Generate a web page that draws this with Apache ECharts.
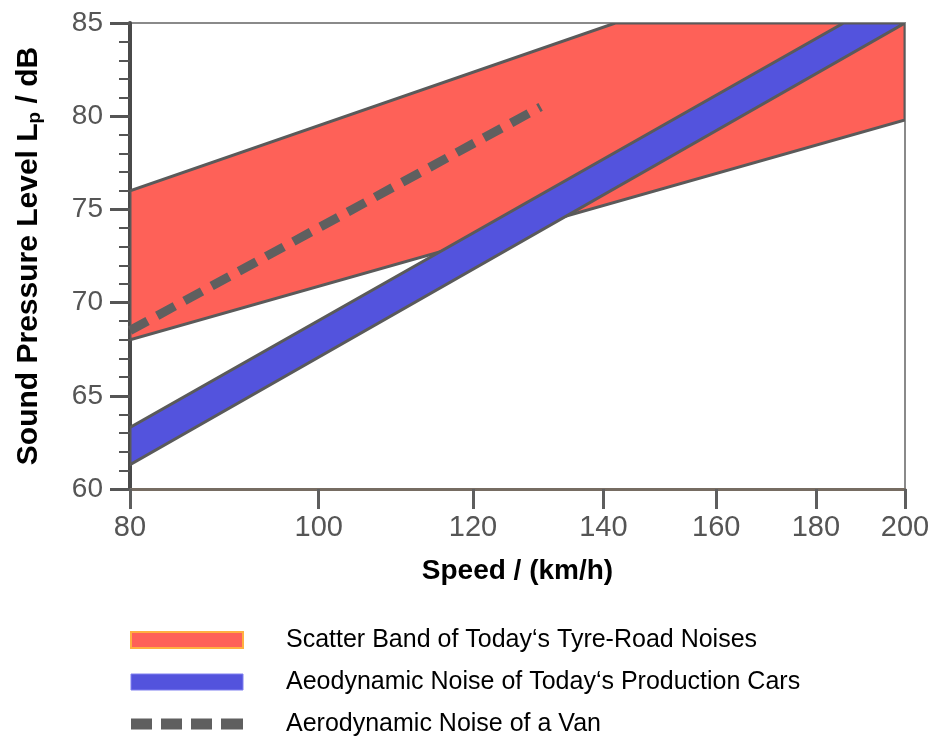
<!DOCTYPE html>
<html>
<head>
<meta charset="utf-8">
<script src="https://cdn.jsdelivr.net/npm/echarts@6/dist/echarts.min.js"></script>
<style>html,body{margin:0;padding:0;background:#fff;}#main{width:933px;height:740px;}</style>
</head>
<body>
<div id="main"></div>
<script>
// ---- data ----
var xTicks = [80, 100, 120, 140, 160, 180, 200];
var yTicks = [60, 65, 70, 75, 80, 85];
// Scatter band of tyre-road noises: [speed km/h, dB]
var tyreUpper = [[80, 76.0], [142, 85.0], [200, 85.0]];
var tyreLower = [[80, 68.0], [200, 79.8]];
// Aerodynamic noise of production cars
var aeroUpper = [[80, 63.3], [186, 85.0], [200, 85.0]];
var aeroLower = [[80, 61.3], [200, 85.0]];
// Aerodynamic noise of a van
var vanLine = [[80, 68.5], [130, 80.5]];

var names = [
  'Scatter Band of Today\u2018s Tyre-Road Noises',
  'Aeodynamic Noise of Today\u2018s Production Cars',
  'Aerodynamic Noise of a Van'
];

function bandRender(upper, lower, fill) {
  return function (params, api) {
    if (params.dataIndex !== 0) return null;
    var pts = [];
    for (var i = 0; i < lower.length; i++) pts.push(api.coord(lower[i]));
    for (var j = upper.length - 1; j >= 0; j--) pts.push(api.coord(upper[j]));
    return {
      type: 'polygon',
      shape: { points: pts },
      style: { fill: fill, stroke: '#5a5a5a', lineWidth: 3, lineJoin: 'round' }
    };
  };
}

var chart = echarts.init(document.getElementById('main'), null, { renderer: 'canvas' });
var font = '"Liberation Sans", Arial, Helvetica, sans-serif';

chart.setOption({
  animation: false,
  backgroundColor: '#ffffff',
  textStyle: { fontFamily: font },
  grid: {
    left: 130, right: 28, top: 23, bottom: 251,
    show: true, borderColor: '#8a8a8a', borderWidth: 2, backgroundColor: 'transparent'
  },
  xAxis: {
    type: 'log', logBase: 10, min: 80, max: 200,
    name: 'Speed / (km/h)', nameLocation: 'middle', nameGap: 68,
    nameTextStyle: { fontSize: 28, fontWeight: 'bold', color: '#000', fontFamily: font },
    axisLine: { show: true, lineStyle: { color: '#766c62', width: 3 } },
    axisTick: { show: true, length: 20, lineStyle: { color: '#5e5e5e', width: 3 }, customValues: xTicks },
    axisLabel: { fontSize: 29, color: '#555', margin: 24, customValues: xTicks, fontFamily: font },
    splitLine: { show: false },
    minorTick: { show: false }
  },
  yAxis: {
    type: 'value', min: 60, max: 85, interval: 5,
    name: 'Sound Pressure Level L{sub|p} / dB', nameLocation: 'middle', nameGap: 86, nameRotate: 90,
    nameTextStyle: {
      fontSize: 30, fontWeight: 'bold', color: '#000', fontFamily: font,
      rich: { sub: { fontSize: 19, fontWeight: 'bold', color: '#000', fontFamily: font, verticalAlign: 'bottom', padding: [10, 0, 0, 0] } }
    },
    axisLine: { show: true, lineStyle: { color: '#4a4a4a', width: 4 } },
    axisTick: { show: true, length: 20, lineStyle: { color: '#555', width: 3 } },
    minorTick: { show: true, splitNumber: 5, length: 11, lineStyle: { color: '#555', width: 2 } },
    axisLabel: { fontSize: 28, color: '#555', margin: 27, fontFamily: font },
    splitLine: { show: false }
  },
  legend: {
    orient: 'vertical', left: 130, top: 626, padding: 0,
    itemWidth: 112, itemHeight: 16, itemGap: 14,
    selectedMode: false,
    textStyle: { fontSize: 25, color: '#000', fontFamily: font, lineHeight: 28, padding: [0, 0, 0, 38] },
    data: [
      { name: names[0], icon: 'rect', itemStyle: { color: '#fe6158', borderColor: '#ffb040', borderWidth: 2 } },
      { name: names[1], icon: 'rect', itemStyle: { color: '#5353dd', borderColor: '#8080f0', borderWidth: 1 } },
      { name: names[2], icon: 'path://M0,0h21v11h-21z M30,0h21v11h-21z M60,0h21v11h-21z M90,0h22v11h-22z',
        itemStyle: { color: '#5f5f5f' } }
    ]
  },
  series: [
    {
      name: names[0], type: 'custom', coordinateSystem: 'cartesian2d', clip: true,
      itemStyle: { color: '#fe6158' },
      renderItem: bandRender(tyreUpper, tyreLower, '#fe6158'),
      data: [tyreLower[0]], z: 2, silent: true
    },
    {
      name: names[1], type: 'custom', coordinateSystem: 'cartesian2d', clip: true,
      itemStyle: { color: '#5353dd' },
      renderItem: bandRender(aeroUpper, aeroLower, '#5353dd'),
      data: [aeroLower[0]], z: 3, silent: true
    },
    {
      name: names[2], type: 'line', data: vanLine, symbol: 'none', z: 4, silent: true,
      lineStyle: { color: '#5f5f5f', width: 9, type: [20, 11], cap: 'butt' },
      itemStyle: { color: '#5f5f5f' }
    }
  ]
});
</script>
</body>
</html>
